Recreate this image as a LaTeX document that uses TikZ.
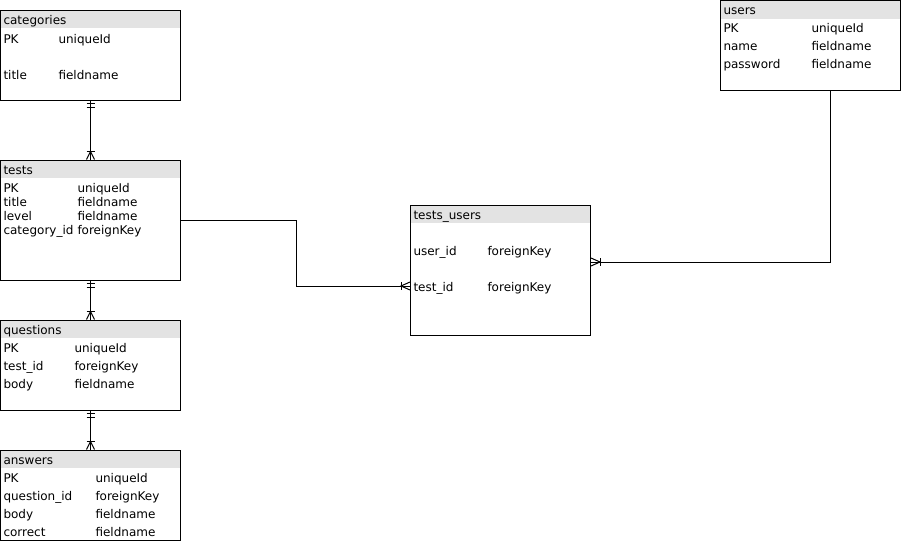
\documentclass[tikz,border=0pt]{standalone}
\usepackage{fontspec}
\setmainfont{DejaVu Sans}
\usetikzlibrary{calc}
\definecolor{hdrgray}{RGB}{227,227,227}

\begin{document}
\begin{tikzpicture}[x=1pt, y=-1pt, line width=1pt,
    tbl/.style={draw, minimum width=180pt, inner sep=0pt,
        path picture={\fill[hdrgray] (path picture bounding box.north west) rectangle ++(200,18);}},
    fld/.style={anchor=base west, inner sep=0pt, font=\fontsize{12}{14}\selectfont}]
    \useasboundingbox (0,0) rectangle (901,542);

    % Tables
    \node[tbl, minimum height=90pt] (categories) at (90.5,55) {};
    \node[tbl, minimum height=120pt] (tests) at (90.5,220) {};
    \node[tbl, minimum height=90pt] (questions) at (90.5,365) {};
    \node[tbl, minimum height=90pt] (answers) at (90.5,495) {};
    \node[tbl, minimum height=90pt] (users) at (810.5,45.5) {};
    \node[tbl, minimum height=130pt] (tests_users) at (500.5,270) {};

    % Table titles
    \node[fld] (categories-title) at (3,24) {categories};
    \node[fld] (tests-title) at (3,174) {tests};
    \node[fld] (questions-title) at (3,334) {questions};
    \node[fld] (answers-title) at (3,464) {answers};
    \node[fld] (users-title) at (723,14) {users};
    \node[fld] (tests_users-title) at (413,219) {tests\_users};

    % Fields
    \foreach \y/\k/\v [count=\i] in {43/PK/uniqueId, 79/title/fieldname} {
        \node[fld] (categories-key\i) at (3,\y) {\k};
        \node[fld] (categories-type\i) at (58,\y) {\v};
    }
    \foreach \y/\k/\v [count=\i] in {192/PK/uniqueId, 206/title/fieldname, 220/level/fieldname, 234/category\_id/foreignKey} {
        \node[fld] (tests-key\i) at (3,\y) {\k};
        \node[fld] (tests-type\i) at (77,\y) {\v};
    }
    \foreach \y/\k/\v [count=\i] in {352/PK/uniqueId, 370/test\_id/foreignKey, 388/body/fieldname} {
        \node[fld] (questions-key\i) at (3,\y) {\k};
        \node[fld] (questions-type\i) at (74,\y) {\v};
    }
    \foreach \y/\k/\v [count=\i] in {482/PK/uniqueId, 500/question\_id/foreignKey, 518/body/fieldname, 536/correct/fieldname} {
        \node[fld] (answers-key\i) at (3,\y) {\k};
        \node[fld] (answers-type\i) at (95,\y) {\v};
    }
    \foreach \y/\k/\v [count=\i] in {32/PK/uniqueId, 50/name/fieldname, 68/password/fieldname} {
        \node[fld] (users-key\i) at (723,\y) {\k};
        \node[fld] (users-type\i) at (811,\y) {\v};
    }
    \foreach \y/\k/\v [count=\i] in {255/user\_id/foreignKey, 291/test\_id/foreignKey} {
        \node[fld] (tests_users-key\i) at (413,\y) {\k};
        \node[fld] (tests_users-type\i) at (487,\y) {\v};
    }

    % One-to-many links down the left column
    \foreach \a/\b in {categories/tests, tests/questions, questions/answers} {
        \draw (\a) -- (\b);
        \draw ($(\a.south)+(-4,3)$) -- ++(8,0);
        \draw ($(\a.south)+(-4,7)$) -- ++(8,0);
        \draw ($(\b.north)+(-4,-8)$) -- ++(8,0);
        \draw ($(\b.north)+(-4,0)$) -- ($(\b.north)+(0,-8)$) -- ($(\b.north)+(4,0)$);
    }

    % Links into tests_users
    \coordinate (tu-left) at ($(tests_users.west)+(0,16)$);
    \coordinate (tu-right) at ($(tests_users.east)+(0,-8)$);
    \coordinate (users-out) at ($(users.south)+(20,0)$);
    \draw (tests.east) -- ++(115,0) |- (tu-left);
    \draw (users-out) |- (tu-right);
    \draw ($(tu-left)+(-9,-4)$) -- ++(0,8);
    \draw ($(tu-left)+(0,-4)$) -- ($(tu-left)+(-9,0)$) -- ($(tu-left)+(0,4)$);
    \draw ($(tu-right)+(9,-4)$) -- ++(0,8);
    \draw ($(tu-right)+(0,-4)$) -- ($(tu-right)+(9,0)$) -- ($(tu-right)+(0,4)$);
\end{tikzpicture}
\end{document}
